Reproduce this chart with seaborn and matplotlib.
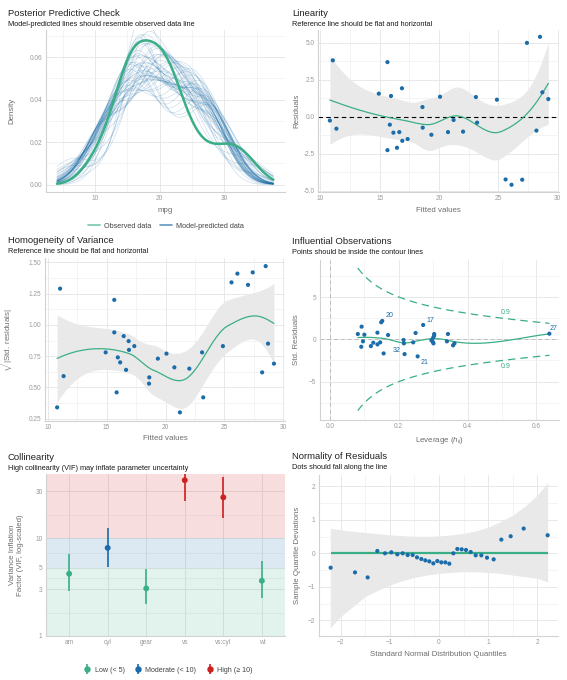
import numpy as np
import pandas as pd
import seaborn as sns
import matplotlib
matplotlib.use("Agg")
import matplotlib.pyplot as plt
from matplotlib.lines import Line2D
from matplotlib.ticker import MultipleLocator, FixedLocator, FormatStrFormatter, NullFormatter

GREEN = "#3aaf85"
BLUE = "#1b6ca8"
RED = "#cd201f"
BAND = "#e9e9e9"

# observed response (mpg)
mpg = [21.0, 21.0, 22.8, 21.4, 18.7, 18.1, 14.3, 24.4, 22.8, 19.2, 17.8, 16.4, 17.3, 15.2, 10.4, 10.4,
       14.7, 32.4, 30.4, 33.9, 21.5, 15.5, 15.2, 13.3, 19.2, 27.3, 26.0, 30.4, 15.8, 19.7, 15.0, 21.4]

# fitted values / residuals (linearity + homogeneity panels)
fitted = [10.8, 11.05, 11.35, 14.92, 15.65, 15.65, 15.85, 15.95, 16.15, 16.45, 16.65, 16.87, 16.9, 17.35,
          18.6, 18.62, 19.35, 20.08, 20.75, 21.22, 22.02, 23.1, 23.2, 24.87, 25.6, 26.1, 27.0, 27.4,
          28.2, 28.5, 28.7, 29.2]
resid = [-0.27, 3.8, -0.82, 1.55, 3.68, -2.27, -0.55, 1.39, -1.09, -2.11, -1.05, 1.91, -1.64, -1.52,
         0.64, -0.75, -1.23, 1.34, -1.05, -0.23, -1.02, 1.32, -0.41, 1.14, -4.25, -4.61, -4.27, 4.98,
         -0.95, 5.39, 1.64, 1.18]
sqrt_std_resid = [0.34, 1.29, 0.59, 0.78, 1.20, 0.94, 0.46, 0.74, 0.70, 0.91, 0.64, 0.87, 0.80, 0.83,
                  0.53, 0.58, 0.73, 0.77, 0.66, 0.30, 0.65, 0.78, 0.42, 0.83, 1.34, 1.41, 1.32, 1.42,
                  0.62, 1.47, 0.85, 0.69]

# influential observations
leverage = [0.081, 0.092, 0.091, 0.096, 0.100, 0.119, 0.126, 0.138, 0.138, 0.146, 0.149, 0.152, 0.156,
            0.169, 0.214, 0.215, 0.217, 0.242, 0.249, 0.255, 0.271, 0.295, 0.300, 0.303, 0.301, 0.303,
            0.299, 0.343, 0.340, 0.358, 0.362, 0.638]
std_resid = [0.63, 1.50, -0.88, -0.24, 0.55, -0.80, -0.40, 0.79, -0.60, -0.36, 2.02, 2.18, -1.67, 0.51,
             -0.08, -0.48, -1.75, -0.36, 0.75, -2.02, 1.70, -0.12, 0.19, 0.63, -0.48, 0.43, -0.30, 0.63,
             -0.24, -0.71, -0.48, 0.67]
label_idx = [11, 20, 16, 19, 31]
label_txt = ["20", "17", "32", "21", "27"]
n_params = 7

# collinearity
terms = ["am", "cyl", "gear", "vs", "vs:cyl", "wt"]
vif = [4.32, 7.93, 3.06, 38.9, 26.0, 3.66]
vif_lo = [2.89, 5.02, 2.11, 23.7, 16.1, 2.45]
vif_hi = [6.88, 12.6, 4.83, 60.0, 42.4, 5.79]

# normality (detrended qq)
qq_x = [-2.203, -1.708, -1.451, -1.254, -1.098, -0.969, -0.847, -0.739, -0.637, -0.536, -0.447, -0.359,
        -0.278, -0.197, -0.115, -0.034, 0.047, 0.129, 0.210, 0.292, 0.373, 0.461, 0.549, 0.644, 0.746,
        0.861, 0.976, 1.112, 1.268, 1.458, 1.722, 2.210]
qq_y = [-0.43, -0.57, -0.72, 0.07, 0.00, 0.03, -0.03, 0.00, -0.05, -0.05, -0.12, -0.17, -0.21, -0.24,
        -0.30, -0.23, -0.27, -0.27, -0.31, 0.00, 0.13, 0.12, 0.10, 0.04, -0.06, -0.06, -0.13, -0.18,
        0.41, 0.51, 0.74, 0.54]
band_x = [-2.21, -2.0, -1.75, -1.5, -1.25, -1.0, -0.75, -0.5, -0.25, 0.0, 0.25, 0.5, 0.75, 1.0, 1.25,
          1.5, 1.75, 2.0, 2.21]
band_hi = [0.75, 0.70, 0.66, 0.62, 0.59, 0.55, 0.53, 0.51, 0.51, 0.52, 0.55, 0.60, 0.67, 0.78, 0.95,
           1.14, 1.41, 1.74, 2.11]
band_lo = [-2.22, -1.89, -1.59, -1.29, -1.11, -0.95, -0.82, -0.72, -0.65, -0.60, -0.57, -0.55, -0.55,
           -0.57, -0.60, -0.65, -0.70, -0.75, -0.85]


def loess(x, y, grid, span=0.75, cell=0.2):
    # local quadratic loess, evaluated at kd-tree vertices and
    # cubic-hermite interpolated in between (like R's default surface)
    x = np.asarray(x, float)
    y = np.asarray(y, float)
    n = len(x)
    q = int(np.floor(n * span))

    def local(x0):
        d = np.abs(x - x0)
        h = np.sort(d)[q - 1]
        w = (1 - np.clip(d / h, 0, 1) ** 3) ** 3
        B = np.column_stack([np.ones(n), x - x0, (x - x0) ** 2])
        BW = B.T * w
        S = np.linalg.solve(BW @ B, BW)
        return S[0], S[1]

    xs = np.sort(x)
    fc = int(np.floor(n * span * cell))
    mu = 0.005 * (xs[-1] - xs[0])
    verts = [xs[0] - mu, xs[-1] + mu]

    def split(lo, hi):
        if hi - lo + 1 <= fc:
            return
        m = (lo + hi + 2) // 2 - 1
        verts.append((xs[m] + xs[m + 1]) / 2)
        split(lo, m)
        split(m + 1, hi)

    split(0, n - 1)
    verts = np.sort(verts)
    V0, V1 = zip(*[local(v) for v in verts])
    V0 = np.array(V0)
    V1 = np.array(V1)

    def rows(pts):
        out = []
        for p in pts:
            i = min(max(np.searchsorted(verts, p) - 1, 0), len(verts) - 2)
            dv = verts[i + 1] - verts[i]
            t = (p - verts[i]) / dv
            phi0 = (1 - t) ** 2 * (1 + 2 * t)
            phi1 = t ** 2 * (3 - 2 * t)
            psi0 = t * (1 - t) ** 2
            psi1 = -t ** 2 * (1 - t)
            out.append(phi0 * V0[i] + phi1 * V0[i + 1] + dv * (psi0 * V1[i] + psi1 * V1[i + 1]))
        return np.array(out)

    Lg = rows(grid)
    Ld = rows(x)
    fit = Lg @ y
    res = y - Ld @ y
    M = np.eye(n) - Ld
    MM = M.T @ M
    d1 = np.trace(MM)
    d2 = np.trace(MM @ MM)
    df = d1 ** 2 / d2
    z = 1.959964
    tq = z + (z ** 3 + z) / (4 * df) + (5 * z ** 5 + 16 * z ** 3 + 3 * z) / (96 * df ** 2)
    sigma = np.sqrt(np.sum(res ** 2) / d1)
    se = sigma * np.sqrt(np.sum(Lg ** 2, axis=1))
    return fit, tq * se


sns.set_theme(style="whitegrid")
plt.rcParams["font.family"] = ["Liberation Sans", "DejaVu Sans"]
plt.rcParams["mathtext.fontset"] = "custom"
plt.rcParams["mathtext.rm"] = "Liberation Sans"
plt.rcParams["mathtext.it"] = "Liberation Sans:italic"

W, H = 567, 680
fig = plt.figure(figsize=(W / 100, H / 100), dpi=100)


def add_ax(left, top, right, bottom):
    return fig.add_axes([left / W, 1 - bottom / H, (right - left) / W, (bottom - top) / H])


def style(ax, ylab_x, xlab=None, ylab=None):
    ax.set_facecolor("white")
    for s in ["top", "right"]:
        ax.spines[s].set_visible(False)
    for s in ["left", "bottom"]:
        ax.spines[s].set_visible(True)
        ax.spines[s].set_color("#d2d2d2")
        ax.spines[s].set_linewidth(0.8)
    ax.grid(True, which="major", color="#e4e4e4", lw=0.6)
    ax.grid(True, which="minor", color="#f0f0f0", lw=0.5)
    ax.set_axisbelow(True)
    ax.tick_params(which="both", length=0, labelsize=4.7, labelcolor="#9a9a9a", pad=2.5)
    ax.set_xlabel(xlab if xlab else "", fontsize=5.7, color="#6e6e6e")
    ax.set_ylabel(ylab if ylab else "", fontsize=5.7, color="#6e6e6e")
    ax.yaxis.set_label_coords(ylab_x, 0.5)
    h_px = ax.get_position().height * H
    ax.xaxis.set_label_coords(0.5, -14.5 / h_px)


def titles(x, y, title, sub):
    fig.text(x / W, 1 - y / H, title, fontsize=6.8, color="#222222", va="baseline")
    fig.text(x / W, 1 - (y + 10) / H, sub, fontsize=5.3, color="#1a1a1a", va="baseline")


# --- Posterior predictive check
ax1 = add_ax(46, 30, 285, 192)
fit_arr = np.array(fitted)
res_arr = np.array(resid)
for k in range(1, 26):
    for sign in (1, -1):
        pred = fit_arr + sign * np.roll(res_arr, k)
        sns.kdeplot(x=pred, bw_method=0.5, clip=(4.1, 37.6), cut=4, color=BLUE, lw=0.5,
                    alpha=0.22, ax=ax1)
sns.kdeplot(x=mpg, bw_method=0.411, clip=(4.1, 37.6), cut=4, color=GREEN, lw=1.8, ax=ax1)
ax1.set_xlim(2.4, 39.4)
ax1.set_ylim(-0.0035, 0.0728)
ax1.xaxis.set_major_locator(FixedLocator([10, 20, 30]))
ax1.xaxis.set_minor_locator(FixedLocator([5, 15, 25, 35]))
ax1.yaxis.set_major_locator(MultipleLocator(0.02))
ax1.yaxis.set_minor_locator(MultipleLocator(0.01))
ax1.yaxis.set_major_formatter(FormatStrFormatter("%.2f"))
style(ax1, -0.127, "mpg", "Density")
titles(8, 15.7, "Posterior Predictive Check", "Model-predicted lines should resemble observed data line")
fig.legend(handles=[Line2D([], [], color=GREEN, lw=1.2, alpha=0.7), Line2D([], [], color=BLUE, lw=1.2, alpha=0.7)],
           labels=["Observed data", "Model-predicted data"], loc="center",
           bbox_to_anchor=(166 / W, 1 - 226 / H), ncol=2, frameon=False, fontsize=5.2,
           handlelength=1.6, columnspacing=1.2, handletextpad=0.6, labelcolor="#444444")

# --- Linearity
ax2 = add_ax(318, 30, 559, 192)
grid = np.linspace(min(fitted), max(fitted), 80)
fit, ci = loess(fitted, resid, grid)
ax2.fill_between(grid, fit - ci, fit + ci, color=BAND, lw=0, zorder=1)
ax2.axhline(0, color="black", lw=0.8, ls=(0, (4, 3)), zorder=2)
ax2.plot(grid, fit, color=GREEN, lw=0.9, zorder=3)
sns.scatterplot(x=fitted, y=resid, color=BLUE, s=9, edgecolor="none", ax=ax2, zorder=4)
ax2.set_xlim(9.8, 30.1)
ax2.set_ylim(-5.1, 5.85)
ax2.xaxis.set_major_locator(MultipleLocator(5))
ax2.xaxis.set_minor_locator(MultipleLocator(2.5))
ax2.yaxis.set_major_locator(MultipleLocator(2.5))
ax2.yaxis.set_minor_locator(MultipleLocator(1.25))
ax2.yaxis.set_major_formatter(FormatStrFormatter("%.1f"))
style(ax2, -0.075, "Fitted values", "Residuals")
titles(292, 15.7, "Linearity", "Reference line should be flat and horizontal")

# --- Homogeneity of variance
ax3 = add_ax(45, 258, 285, 421)
fit, ci = loess(fitted, sqrt_std_resid, grid)
ax3.fill_between(grid, fit - ci, fit + ci, color=BAND, lw=0, zorder=1)
ax3.plot(grid, fit, color=GREEN, lw=0.9, zorder=3)
sns.scatterplot(x=fitted, y=sqrt_std_resid, color=BLUE, s=9, edgecolor="none", ax=ax3, zorder=4)
ax3.set_xlim(9.77, 30.14)
ax3.set_ylim(0.231, 1.535)
ax3.xaxis.set_major_locator(MultipleLocator(5))
ax3.xaxis.set_minor_locator(MultipleLocator(2.5))
ax3.yaxis.set_major_locator(MultipleLocator(0.25))
ax3.yaxis.set_minor_locator(MultipleLocator(0.125))
ax3.yaxis.set_major_formatter(FormatStrFormatter("%.2f"))
style(ax3, -0.125, "Fitted values", r"$\sqrt{|\mathrm{Std.\ residuals}|}$")
titles(8, 243.3, "Homogeneity of Variance", "Reference line should be flat and horizontal")

# --- Influential observations
ax4 = add_ax(320, 260, 559, 420)
ax4.axvline(0, color="#bdbdbd", lw=0.7, ls=(0, (4, 3)), zorder=1)
ax4.axhline(0, color="#bdbdbd", lw=0.7, ls=(0, (4, 3)), zorder=1)
hgrid = np.linspace(min(leverage), max(leverage), 100)
contour = np.sqrt(0.9 * n_params * (1 - hgrid) / hgrid)
ax4.plot(hgrid, contour, color=GREEN, lw=0.9, ls=(0, (6, 4)), zorder=2)
ax4.plot(hgrid, -contour, color=GREEN, lw=0.9, ls=(0, (6, 4)), zorder=2)
h_lab = 0.51
c_lab = np.sqrt(0.9 * n_params * (1 - h_lab) / h_lab)
for sgn in (1, -1):
    ax4.annotate("0.9", (h_lab, sgn * c_lab), xytext=(0, sgn * 6), textcoords="offset pixels",
                 ha="center", va="center", fontsize=5, color=GREEN)
lgrid = np.linspace(min(leverage), max(leverage), 80)
fit, ci = loess(leverage, std_resid, lgrid)
ax4.plot(lgrid, fit, color=GREEN, lw=0.9, zorder=3)
sns.scatterplot(x=leverage, y=std_resid, color=BLUE, s=9, edgecolor="none", ax=ax4, zorder=4)
offsets = [(7.5, 5), (7.5, 4.3), (-8, 3.3), (7, -6), (4, 5.4)]
for i, t, off in zip(label_idx, label_txt, offsets):
    ax4.annotate(t, (leverage[i], std_resid[i]), xytext=off, textcoords="offset pixels",
                 ha="center", va="center", fontsize=5, color=BLUE)
ax4.set_xlim(-0.029, 0.666)
ax4.set_ylim(-9.56, 9.4)
ax4.xaxis.set_major_locator(MultipleLocator(0.2))
ax4.xaxis.set_minor_locator(MultipleLocator(0.1))
ax4.xaxis.set_major_formatter(FormatStrFormatter("%.1f"))
ax4.yaxis.set_major_locator(MultipleLocator(5))
ax4.yaxis.set_minor_locator(MultipleLocator(2.5))
style(ax4, -0.084, r"Leverage ($h_{ii}$)", "Std. Residuals")
titles(292, 243.5, "Influential Observations", "Points should be inside the contour lines")

# --- Collinearity
ax5 = add_ax(46, 474, 285, 636)
ax5.set_yscale("log")
ax5.axhspan(1, 5, color=GREEN, alpha=0.15, lw=0, zorder=1)
ax5.axhspan(5, 10, color=BLUE, alpha=0.15, lw=0, zorder=1)
ax5.axhspan(10, 100, color=RED, alpha=0.15, lw=0, zorder=1)
vdf = pd.DataFrame({"term": terms, "vif": vif, "lo": vif_lo, "hi": vif_hi})
vdf["group"] = np.where(vdf["vif"] < 5, "Low (< 5)", np.where(vdf["vif"] < 10, "Moderate (< 10)", "High (≥ 10)"))
pal = {"Low (< 5)": GREEN, "Moderate (< 10)": BLUE, "High (≥ 10)": RED}
vdf["pos"] = np.arange(len(vdf))
ax5.vlines(vdf["pos"], vdf["lo"], vdf["hi"], colors=vdf["group"].map(pal), lw=1.2, zorder=3)
sns.scatterplot(data=vdf, x="pos", y="vif", hue="group", palette=pal, s=18, edgecolor="none",
                legend=False, ax=ax5, zorder=4)
ax5.set_xlim(-0.6, len(terms) - 0.4)
ax5.set_ylim(1, 45)
ax5.xaxis.set_major_locator(FixedLocator(vdf["pos"].tolist()))
ax5.set_xticklabels(terms)
ax5.xaxis.set_minor_locator(FixedLocator([]))
major_y = [1, 3, 5, 10, 30]
ax5.yaxis.set_major_locator(FixedLocator(major_y))
ax5.yaxis.set_major_formatter(FormatStrFormatter("%g"))
ax5.yaxis.set_minor_locator(FixedLocator([np.sqrt(a * b) for a, b in zip(major_y[:-1], major_y[1:])]))
ax5.yaxis.set_minor_formatter(NullFormatter())
style(ax5, -0.092, None, "Variance Inflation\nFactor (VIF, log-scaled)")
ax5.grid(False, which="minor", axis="x")
titles(8, 460, "Collinearity", "High collinearity (VIF) may inflate parameter uncertainty")
vh = []
for g in pal:
    vh.append((Line2D([], [], color=pal[g], marker="|", ms=7, mew=1.2, ls="none"),
               Line2D([], [], color=pal[g], marker="o", ms=3.6, ls="none")))
fig.legend(handles=vh, labels=list(pal.keys()), loc="center", bbox_to_anchor=(168 / W, 1 - 670 / H),
           ncol=3, frameon=False, fontsize=5.1, handlelength=1.0, columnspacing=1.4,
           handletextpad=0.5, labelcolor="#444444")

# --- Normality of residuals
ax6 = add_ax(319, 475, 558, 636)
ax6.fill_between(band_x, band_lo, band_hi, color=BAND, lw=0, zorder=1)
ax6.hlines(0, min(qq_x), max(qq_x), color=GREEN, lw=1.6, zorder=2)
sns.scatterplot(x=qq_x, y=qq_y, color=BLUE, s=9, edgecolor="none", ax=ax6, zorder=4)
ax6.set_xlim(-2.44, 2.42)
ax6.set_ylim(-2.47, 2.34)
ax6.xaxis.set_major_locator(MultipleLocator(1))
ax6.xaxis.set_minor_locator(MultipleLocator(0.5))
ax6.yaxis.set_major_locator(MultipleLocator(1))
ax6.yaxis.set_minor_locator(MultipleLocator(0.5))
style(ax6, -0.077, "Standard Normal Distribution Quantiles", "Sample Quantile Deviations")
titles(292, 459, "Normality of Residuals", "Dots should fall along the line")

fig.savefig("out.png", dpi=100)
